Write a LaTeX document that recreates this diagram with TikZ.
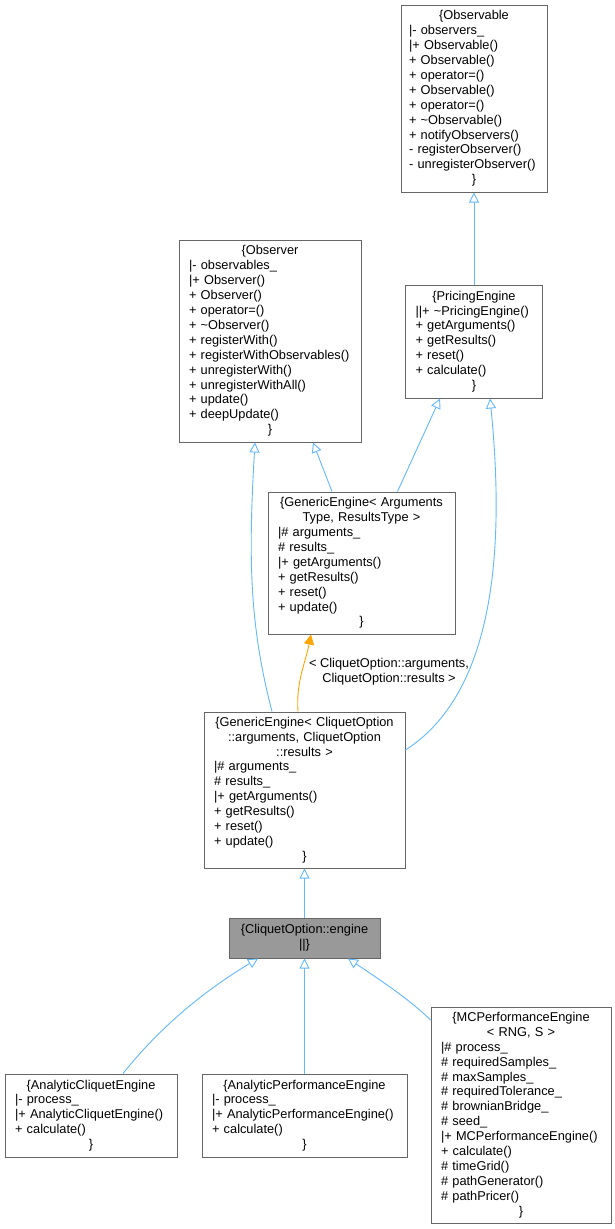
\documentclass[tikz,border=0pt]{standalone}
\usepackage{fontspec}
\setmainfont{Liberation Sans}
\usetikzlibrary{arrows.meta}
\definecolor{edgeblue}{HTML}{63B8FF}
\definecolor{boxgray}{HTML}{666666}
\definecolor{curfill}{HTML}{999999}
\definecolor{tplorange}{HTML}{FFA500}
\newcommand{\hdr}[1]{{\centering #1\par}}

\begin{document}
\begin{tikzpicture}[x=1pt,y=-1pt,
  cls/.style={draw=boxgray,fill=white,line width=1pt,inner xsep=10pt,inner ysep=0pt,
    align=left,font=\fontsize{12.8}{14.9}\selectfont},
  inh/.style={draw=edgeblue,line width=.9pt,-{Triangle[open,length=10pt,width=10pt]}},
  tpl/.style={draw=tplorange,line width=.9pt,-{Triangle[length=10pt,width=10pt]}},
  lbl/.style={align=center,inner sep=0pt,font=\fontsize{12.8}{14.9}\selectfont}]
\path[fill=white] (0,0) rectangle (615,1229);
\useasboundingbox (0,0) rectangle (615,1229);

\node[cls,inner xsep=8pt,minimum width=146pt,minimum height=187pt,text width=130pt] (obsv) at (474,98.5)
  {\hdr{\{Observable}
   |- observers\_\\ |+ Observable()\\ + Observable()\\ + operator=()\\ + Observable()\\
   + operator=()\\ + \textasciitilde Observable()\\ + notifyObservers()\\
   - registerObserver()\\ - unregisterObserver()\par
   \hdr{\}}};

\node[cls,minimum width=182pt,minimum height=202pt,text width=162pt] (obsr) at (270,341)
  {\hdr{\{Observer}
   |- observables\_\\ |+ Observer()\\ + Observer()\\ + operator=()\\ + \textasciitilde Observer()\\
   + registerWith()\\ + registerWithObservables()\\ + unregisterWith()\\
   + unregisterWithAll()\\ + update()\\ + deepUpdate()\par
   \hdr{\}}};

\node[cls,minimum width=137pt,minimum height=113pt,text width=117pt] (pe) at (474,341.5)
  {\hdr{\{PricingEngine}
   ||+ \textasciitilde PricingEngine()\\ + getArguments()\\ + getResults()\\ + reset()\\
   + calculate()\par
   \hdr{\}}};

\node[cls,minimum width=187pt,minimum height=142pt,text width=167pt] (gea) at (361.5,563)
  {\hdr{\{GenericEngine< Arguments\\ Type, ResultsType >}
   |\# arguments\_\\ \# results\_\\ |+ getArguments()\\ + getResults()\\ + reset()\\
   + update()\par
   \hdr{\}}};

\node[cls,minimum width=201pt,minimum height=156pt,text width=181pt] (gec) at (304.5,790)
  {\hdr{\{GenericEngine< CliquetOption\\ ::arguments, CliquetOption\\ ::results >}
   |\# arguments\_\\ \# results\_\\ |+ getArguments()\\ + getResults()\\ + reset()\\
   + update()\par
   \hdr{\}}};

\node[cls,fill=curfill,minimum width=151pt,minimum height=40pt,text width=131pt] (eng) at (304.5,938)
  {\hdr{\{CliquetOption::engine\\ ||\}}};

\node[cls,minimum width=172pt,minimum height=83pt,text width=152pt] (ace) at (91,1115.5)
  {\hdr{\{AnalyticCliquetEngine}
   |- process\_\\ |+ AnalyticCliquetEngine()\\ + calculate()\par
   \hdr{\}}};

\node[cls,minimum width=205pt,minimum height=83pt,text width=185pt] (ape) at (304.5,1115.5)
  {\hdr{\{AnalyticPerformanceEngine}
   |- process\_\\ |+ AnalyticPerformanceEngine()\\ + calculate()\par
   \hdr{\}}};

\node[cls,minimum width=180pt,minimum height=216pt,text width=160pt] (mcpe) at (521,1115)
  {\hdr{\{MCPerformanceEngine\\ < RNG, S >}
   |\# process\_\\ \# requiredSamples\_\\ \# maxSamples\_\\ \# requiredTolerance\_\\
   \# brownianBridge\_\\ \# seed\_\\ |+ MCPerformanceEngine()\\ + calculate()\\
   \# timeGrid()\\ \# pathGenerator()\\ \# pathPricer()\par
   \hdr{\}}};

\node[lbl] (tlbl) at (389,671.5) {< CliquetOption::arguments,\\ CliquetOption::results >};

\draw[inh] (pe.north) -- (obsv.south);
\draw[inh] ([xshift=-29.5pt]gea.north) -- ([xshift=43pt]obsr.south);
\draw[inh] ([xshift=36pt]gea.north) -- ([xshift=-34pt]pe.south);
\draw[inh] ([xshift=-32.5pt]gec.north) .. controls +(-22,-85) and +(-7,120) .. ([xshift=-15pt]obsr.south);
\draw[inh] ([yshift=40pt]gec.east) .. controls +(70,-45) and +(20,200) .. ([xshift=16pt]pe.south);
\draw[tpl] ([xshift=-6.5pt]gec.north) .. controls +(-2,-30) and +(-6,30) .. ([xshift=-50.5pt]gea.south);
\draw[inh] (eng.north) -- (gec.south);
\draw[inh] ([xshift=32pt]ace.north) .. controls +(40,-50) and +(-50,30) .. ([xshift=-46.5pt]eng.south);
\draw[inh] (ape.north) -- (eng.south);
\draw[inh] ([yshift=95pt]mcpe.west) .. controls +(-20,-20) and +(30,20) .. ([xshift=43.5pt]eng.south);
\end{tikzpicture}
\end{document}
